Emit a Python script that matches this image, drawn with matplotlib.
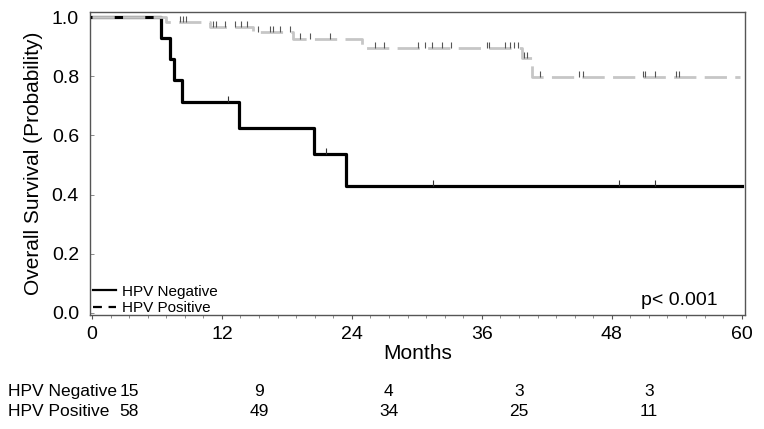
import numpy as np
import matplotlib
matplotlib.use("Agg")
import matplotlib.pyplot as plt
import matplotlib.transforms as mtransforms
from matplotlib.path import Path
from matplotlib.lines import Line2D
from matplotlib.ticker import MultipleLocator

plt.rcParams['font.family'] = ['Liberation Sans', 'DejaVu Sans']

# Kaplan-Meier steps (months, survival probability)
neg_times = [0, 6.4, 7.2, 7.6, 8.3, 13.6, 20.5, 23.5, 60]
neg_surv = [1.0, 0.929, 0.857, 0.786, 0.714, 0.625, 0.536, 0.429, 0.429]
neg_censor = [12.6, 21.6, 31.5, 48.7, 52.0]

pos_times = [0, 6.8, 10.9, 14.9, 18.6, 24.9, 39.7, 40.6, 59.8]
pos_surv = [1.0, 0.983, 0.966, 0.948, 0.926, 0.897, 0.862, 0.797, 0.797]
pos_censor = [8.1, 8.4, 8.7, 11.2, 11.5, 12.3, 13.2, 13.8, 14.3, 15.3,
              16.4, 16.7, 17.4, 18.3, 19.2, 20.1, 22.0, 26.1, 27.0, 30.1,
              30.8, 31.4, 32.3, 33.2, 36.5, 36.7, 38.1, 38.6, 39.0, 39.3,
              39.9, 40.2, 41.4, 45.0, 45.3, 50.9, 51.1, 52.0, 53.9, 54.2]

# numbers at risk
risk_times = [0, 12, 24, 36, 48]
neg_risk = [15, 9, 4, 3, 3]
pos_risk = [58, 49, 34, 25, 11]


def surv_at(times, surv, t):
    idx = np.searchsorted(times, t, side='right') - 1
    return np.asarray(surv)[idx]


fig = plt.figure(figsize=(7.64, 4.29), dpi=100)
ax = fig.add_axes([0.1178, 0.266, 0.857, 0.706])

# censor tick: vertical stroke going up from the curve
tick_up = Path([(0, 0), (0, 1)])

ax.step(neg_times, neg_surv, where='post', color='black', lw=2.3, zorder=3)
ax.plot(neg_censor, surv_at(neg_times, neg_surv, neg_censor), ls='none',
        marker=tick_up, markersize=9, markeredgewidth=0.8, color='#333333', zorder=4)

ax.step(pos_times, pos_surv, where='post', color='#c6c6c6', lw=2.0,
        linestyle=(0, (8, 3)), zorder=4)
ax.plot(pos_censor, surv_at(pos_times, pos_surv, pos_censor), ls='none',
        marker=tick_up, markersize=9, markeredgewidth=0.8, color='#555555', zorder=5)

ax.set_xlim(-0.18, 60.28)
ax.set_ylim(-0.007, 1.017)
ax.set_xticks([0, 12, 24, 36, 48, 60])
ax.xaxis.set_minor_locator(MultipleLocator(12 / 7))
ax.set_yticks([0.0, 0.2, 0.4, 0.6, 0.8, 1.0])
ax.set_yticklabels(['0.0', '0.2', '0.4', '0.6', '0.8', '1.0'])

ax.tick_params(axis='x', which='major', direction='out', length=3, width=0.8,
               labelsize=14, pad=5, color='#555555')
ax.tick_params(axis='x', which='minor', direction='out', length=2, width=0.6,
               color='#777777')
ax.tick_params(axis='y', which='major', direction='in', length=3, width=0.6,
               labelsize=14, pad=8, color='#777777')

for s in ax.spines.values():
    s.set_color('#555555')
    s.set_linewidth(1.0)

ax.set_xlabel('Months', fontsize=15, labelpad=1)
ax.set_ylabel('Overall Survival (Probability)', fontsize=15, labelpad=6)

handles = [Line2D([], [], color='black', lw=1.6),
           Line2D([], [], color='black', lw=1.6, linestyle=(0, (4, 3)))]
ax.legend(handles, ['HPV Negative', 'HPV Positive'], loc='lower left',
          bbox_to_anchor=(0.0, -0.01), frameon=False, fontsize=11,
          handlelength=1.5, handletextpad=0.4, labelspacing=0.15,
          borderaxespad=0.1, borderpad=0.1)

ax.text(57.8, 0.04, 'p< 0.001', fontsize=14, ha='right', va='center')

# number at risk table
trans = mtransforms.blended_transform_factory(ax.transData, fig.transFigure)
trans = trans + mtransforms.ScaledTranslation(0.37, 0, fig.dpi_scale_trans)
for y, label, vals in [(0.087, 'HPV Negative', neg_risk),
                       (0.040, 'HPV Positive', pos_risk)]:
    fig.text(0.0105, y, label, fontsize=12.5, ha='left', va='center')
    for t, v in zip(risk_times, vals):
        ax.text(t, y, str(v), transform=trans, fontsize=12.5,
                ha='center', va='center', clip_on=False)

plt.savefig('out.png', dpi=100)
